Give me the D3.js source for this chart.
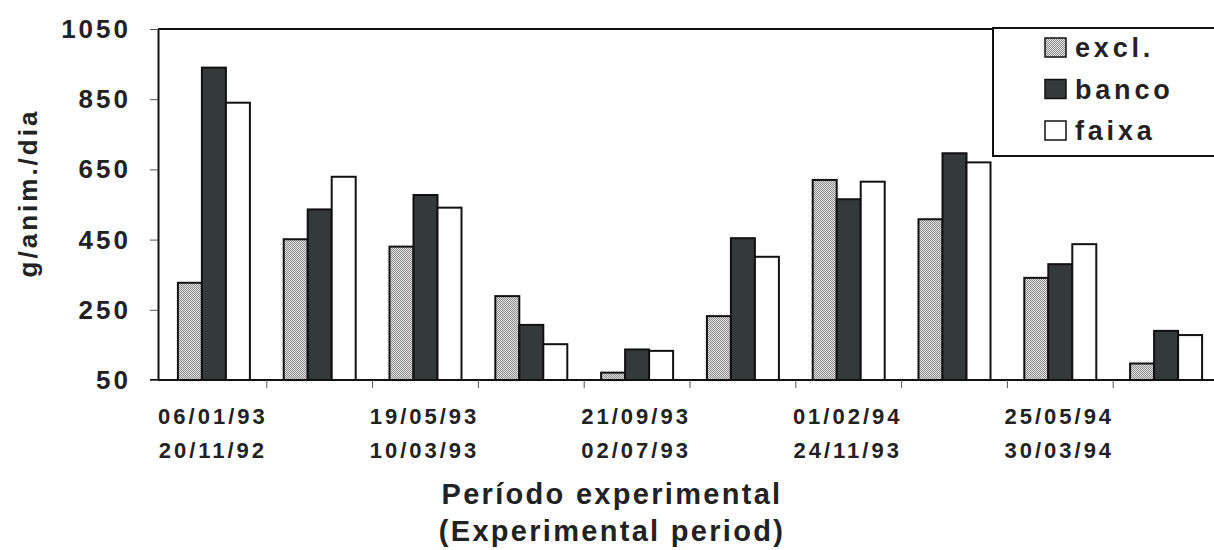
<!DOCTYPE html>
<html>
<head>
<meta charset="utf-8">
<script src="https://cdn.jsdelivr.net/npm/d3@7"></script>
<style>
  body { margin: 0; background: #fff; }
  svg text { font-family: "Liberation Sans", Arial, sans-serif; font-weight: bold; fill: #222; }
</style>
</head>
<body>
<div id="chart"></div>
<script>
// data
const groups = ["g1", "g2", "g3", "g4", "g5", "g6", "g7", "g8", "g9", "g10"];
const series = ["excl.", "banco", "faixa"];
const excl  = [327, 451, 430, 289, 71, 232, 620, 508, 341, 97];
const banco = [940, 536, 577, 207, 137, 454, 565, 696, 380, 190];
const faixa = [840, 629, 541, 152, 133, 401, 615, 670, 437, 178];
const labelTop    = ["06/01/93", "19/05/93", "21/09/93", "01/02/94", "25/05/94"];
const labelBottom = ["20/11/92", "10/03/93", "02/07/93", "24/11/93", "30/03/94"];
const labelGroups = ["g1", "g3", "g5", "g7", "g9"];
const yTicks = [50, 250, 450, 650, 850, 1050];

const W = 1214, H = 550;
const svg = d3.select("#chart").append("svg")
    .attr("width", W).attr("height", H);

const defs = svg.append("defs");
const pat = defs.append("pattern")
    .attr("id", "stipple")
    .attr("width", 2).attr("height", 2)
    .attr("patternUnits", "userSpaceOnUse");
pat.append("rect").attr("width", 2).attr("height", 2).attr("fill", "#e2e2e2");
pat.append("rect").attr("width", 1).attr("height", 1).attr("fill", "#8e8e8e");
pat.append("rect").attr("x", 1).attr("y", 1).attr("width", 1).attr("height", 1).attr("fill", "#8e8e8e");

const plotLeft = 158, plotTop = 29, plotBottom = 380;

const x0 = d3.scaleBand()
    .domain(groups)
    .range([161, 1219])
    .padding(0);

const bw = x0.bandwidth();
const x1 = d3.scaleBand()
    .domain(series)
    .range([bw / 2 - 36, bw / 2 + 36])
    .padding(0);

const y = d3.scaleLinear()
    .domain([50, 1050])
    .range([plotBottom, plotTop]);

const fills = { "excl.": "url(#stipple)", "banco": "#343939", "faixa": "#ffffff" };

const rows = [];
groups.forEach((g, i) => {
  rows.push({ group: g, s: "excl.", v: excl[i] });
  rows.push({ group: g, s: "banco", v: banco[i] });
  rows.push({ group: g, s: "faixa", v: faixa[i] });
});

// bars
svg.append("g")
  .selectAll("rect")
  .data(rows)
  .join("rect")
    .attr("x", d => x0(d.group) + x1(d.s))
    .attr("y", d => y(d.v))
    .attr("width", x1.bandwidth())
    .attr("height", d => y(50) - y(d.v))
    .attr("fill", d => fills[d.s])
    .attr("stroke", "#111")
    .attr("stroke-width", 2);

// top border
svg.append("line")
    .attr("x1", plotLeft).attr("x2", W)
    .attr("y1", y(1050)).attr("y2", y(1050))
    .attr("stroke", "#111").attr("stroke-width", 2);

// baseline
svg.append("line")
    .attr("x1", 150).attr("x2", W)
    .attr("y1", y(50)).attr("y2", y(50))
    .attr("stroke", "#111").attr("stroke-width", 2);

// x ticks at group boundaries
svg.append("g")
  .selectAll("line")
  .data(groups.slice(1))
  .join("line")
    .attr("x1", d => x0(d)).attr("x2", d => x0(d))
    .attr("y1", y(50)).attr("y2", y(50) + 8)
    .attr("stroke", "#555").attr("stroke-width", 1);

// y axis
const yAxis = svg.append("g")
    .attr("transform", `translate(${plotLeft},0)`)
    .call(d3.axisLeft(y).tickValues(yTicks).tickFormat(d3.format("d")).tickSize(8).tickSizeOuter(0));
yAxis.select(".domain").attr("stroke", "#111").attr("stroke-width", 2);
yAxis.selectAll(".tick line").attr("stroke", "#555").attr("stroke-width", 1);
yAxis.selectAll(".tick text")
    .attr("x", -27)
    .attr("dy", "0.33em")
    .style("font-size", "26px")
    .style("letter-spacing", "3px")
    .style("font-family", "'Liberation Sans', Arial, sans-serif")
    .style("font-weight", "bold")
    .attr("fill", "#222");

// y label
svg.append("text")
    .attr("transform", "translate(37,193) rotate(-90)")
    .attr("text-anchor", "middle")
    .style("font-size", "26px")
    .style("letter-spacing", "3px")
    .text("g/anim./dia");

// x labels
const xl = svg.append("g");
labelGroups.forEach((g, i) => {
  const cx = x0(g) + bw / 2 - 1;
  xl.append("text")
    .attr("x", cx).attr("y", 424)
    .attr("text-anchor", "middle")
    .style("font-size", "22px")
    .style("letter-spacing", "3px")
    .text(labelTop[i]);
  xl.append("text")
    .attr("x", cx).attr("y", 458)
    .attr("text-anchor", "middle")
    .style("font-size", "22px")
    .style("letter-spacing", "3px")
    .text(labelBottom[i]);
});

// x title
svg.append("text")
    .attr("x", 612).attr("y", 504)
    .attr("text-anchor", "middle")
    .style("font-size", "29px")
    .style("letter-spacing", "2.3px")
    .text("Período experimental");
svg.append("text")
    .attr("x", 612).attr("y", 541)
    .attr("text-anchor", "middle")
    .style("font-size", "29px")
    .style("letter-spacing", "2.3px")
    .text("(Experimental period)");

// legend
const legend = svg.append("g");
legend.append("rect")
    .attr("x", 993).attr("y", 28)
    .attr("width", 240).attr("height", 128)
    .attr("fill", "#fff")
    .attr("stroke", "#111").attr("stroke-width", 2);
series.forEach((s, i) => {
  const item = legend.append("g")
      .attr("transform", `translate(1045, ${38 + i * 41.5})`);
  item.append("rect")
      .attr("width", 21).attr("height", 19)
      .attr("fill", fills[s])
      .attr("stroke", "#111").attr("stroke-width", 1.5);
  item.append("text")
      .attr("x", 30).attr("y", 19)
      .style("font-size", "27px")
      .style("letter-spacing", "3.8px")
      .text(s);
});
</script>
</body>
</html>
